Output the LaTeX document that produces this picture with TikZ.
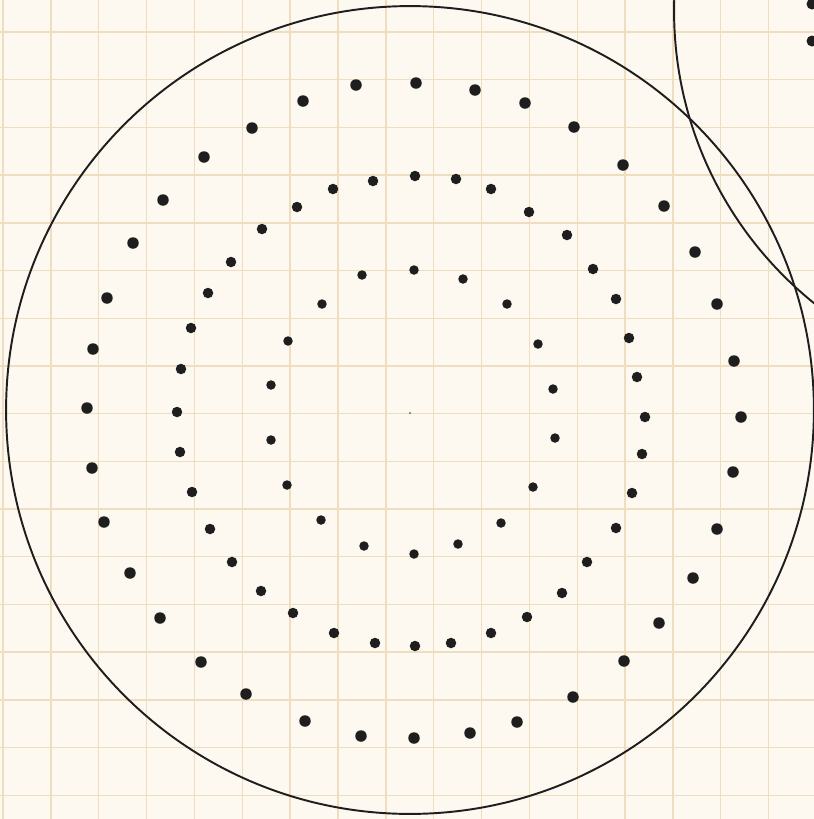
\documentclass[tikz,border=0pt]{standalone}
\usepackage{xcolor}
\usepackage{tikz}
\definecolor{paper}{HTML}{FDF9F1}
\definecolor{gridtan}{HTML}{EFDDBF}
\definecolor{ink}{HTML}{1E1E1E}
\tikzset{
    gridline/.style={draw=gridtan, line width=0.8pt},
    ring/.style={draw=ink, line width=1.1pt},
    dot/.style={fill=ink},
}

\begin{document}
\begin{tikzpicture}[x=0.02cm, y=-0.02cm]
    \fill[paper] (0,0) rectangle (814,819);
    \useasboundingbox (0,0) rectangle (814,819);
    \clip (0,0) rectangle (814,819);

    % graph paper
    \foreach \k in {0,...,17}
        \draw[gridline] (3+47.85*\k,0) -- (3+47.85*\k,819);
    \foreach \k in {0,...,16}
        \draw[gridline] (0,32+47.7*\k) -- (814,32+47.7*\k);

    % the two circles
    \draw[ring] (410,410) circle (8.08cm);
    \draw[ring] (1049,11) circle (7.5cm);
    \fill[dot] (812,4) circle (0.11cm);
    \fill[dot] (812,41) circle (0.11cm);

    % outer ring, 36 dots
    \foreach \p in {(416,83), (475,90), (525,103), (574,127), (623,165), (664,206),
                    (695,252), (717,304), (734,361), (741,417), (733,472), (717,529),
                    (693,578), (659,623), (624,661), (573,697), (517,722), (470,733),
                    (414,738), (361,736), (305,721), (246,694), (201,662), (160,618),
                    (130,573), (104,522), (92,468), (87,408), (93,349), (107,298),
                    (133,243), (163,200), (204,157), (252,128), (303,101), (356,85)}
        \fill[dot] \p circle (0.115cm);

    % middle ring, 36 dots
    \foreach \p in {(415,176), (456,179), (491,189), (529,212), (567,235), (593,269),
                    (616,299), (629,338), (637,377), (645,417), (642,454), (632,493),
                    (616,528), (587,562), (562,593), (527,617), (491,633), (451,643),
                    (415,646), (375,643), (334,633), (293,613), (261,591), (232,562),
                    (210,529), (192,492), (180,452), (177,412), (181,369), (191,328),
                    (208,293), (231,262), (262,229), (297,207), (333,189), (373,181)}
        \fill[dot] \p circle (0.105cm);

    % inner ring, 18 dots
    \foreach \p in {(414,270), (463,279), (507,304), (538,344), (553,389), (555,438),
                    (533,487), (501,523), (458,544), (414,554), (364,546), (321,520),
                    (287,485), (271,440), (271,385), (288,341), (322,304), (362,275)}
        \fill[dot] \p circle (0.095cm);

    % centre mark
    \fill[gray] (410,413) circle (0.025cm);
\end{tikzpicture}
\end{document}
